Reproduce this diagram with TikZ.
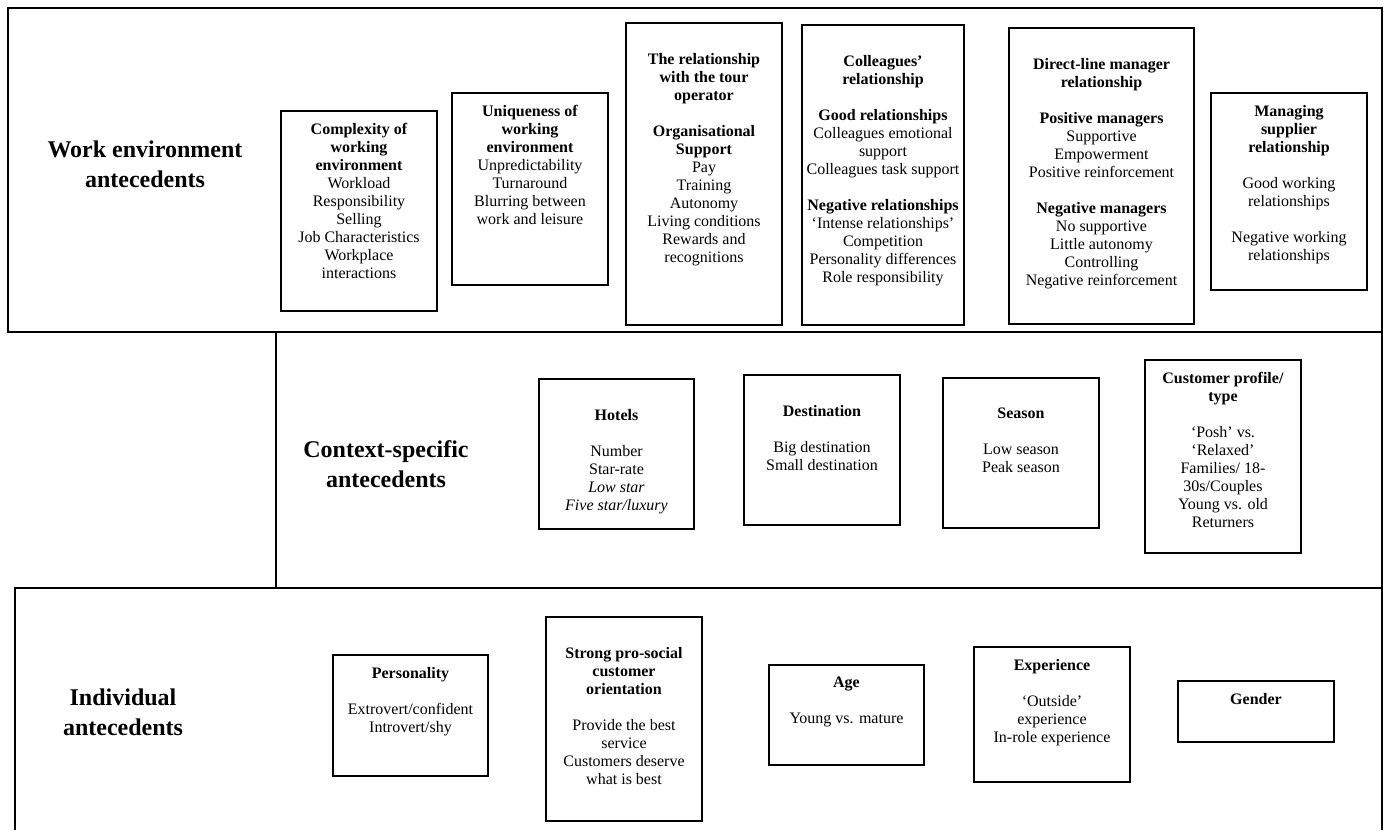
\documentclass[tikz,border=0pt]{standalone}
\usepackage{fontspec}
\setmainfont{Liberation Serif}
\usetikzlibrary{positioning}

\begin{document}
\begin{tikzpicture}[x=0.5pt,y=-0.5pt,line width=0.8pt,
    txt/.style={align=center,inner sep=0pt,font=\fontsize{8}{9}\selectfont},
    sectionlabel/.style={align=center,inner sep=0pt,font=\fontsize{12}{15}\selectfont\bfseries}]
   \useasboundingbox (0,0) rectangle (1386,830);
   \draw (8,8) rectangle (1382,332);
   \draw (276,332) rectangle (1382,588);
   \draw (15,830) |- (1382,588) -- (1382,830);
   \node[sectionlabel] (work) at (145,164) {Work environment\\antecedents};
   \node[sectionlabel] (context) at (386,464) {Context-specific\\antecedents};
   \node[sectionlabel] (indiv) at (123,712) {Individual\\antecedents};
   \begin{scope}[every node/.style={draw,rectangle,inner sep=0pt}]
    \node[minimum width=78pt,minimum height=100pt] (cplx) at (359,211) {};
    \node[minimum width=78pt,minimum height=96pt] (uniq) at (530,189) {};
    \node[minimum width=78pt,minimum height=151pt] (tour) at (704,174) {};
    \node[minimum width=81pt,minimum height=150pt] (coll) at (883,175) {};
    \node[minimum width=92.5pt,minimum height=148pt] (mgr) at (1101.5,176) {};
    \node[minimum width=78pt,minimum height=98.5pt] (supp) at (1289,191.5) {};
    \node[minimum width=77.5pt,minimum height=75pt] (hotel) at (616.5,454) {};
    \node[minimum width=78pt,minimum height=75pt] (dest) at (822,450) {};
    \node[minimum width=78pt,minimum height=75pt] (seas) at (1021,453) {};
    \node[minimum width=78pt,minimum height=96.5pt] (cust) at (1223,456.5) {};
    \node[minimum width=77.5pt,minimum height=60.5pt] (pers) at (410.5,715.5) {};
    \node[minimum width=78pt,minimum height=102pt] (soc) at (624,719) {};
    \node[minimum width=77.5pt,minimum height=50pt] (age) at (846.5,715) {};
    \node[minimum width=78pt,minimum height=67.5pt] (exp) at (1052,714.5) {};
    \node[minimum width=78pt,minimum height=30.5pt] (gend) at (1256,711.5) {};
   \end{scope}
   \begin{scope}[every node/.style={txt}]
    \node[below=6pt of cplx.north] (cplx-t) {\textbf{Complexity of}\\\textbf{working}\\\textbf{environment}\\Workload\\Responsibility\\Selling\\Job Characteristics\\Workplace\\interactions};
    \node[below=6pt of uniq.north] (uniq-t) {\textbf{Uniqueness of}\\\textbf{working}\\\textbf{environment}\\Unpredictability\\Turnaround\\Blurring between\\work and leisure};
    \node[below=15pt of tour.north] (tour-t) {\textbf{The relationship}\\\textbf{with the tour}\\\textbf{operator}\\[9pt]\textbf{Organisational}\\\textbf{Support}\\Pay\\Training\\Autonomy\\Living conditions\\Rewards and\\recognitions};
    \node[below=15pt of coll.north] (coll-t) {\textbf{Colleagues’}\\\textbf{relationship}\\[9pt]\textbf{Good relationships}\\Colleagues emotional\\support\\Colleagues task support\\[9pt]\textbf{Negative relationships}\\‘Intense relationships’\\Competition\\Personality differences\\Role responsibility};
    \node[below=15pt of mgr.north] (mgr-t) {\textbf{Direct-line manager}\\\textbf{relationship}\\[9pt]\textbf{Positive managers}\\Supportive\\Empowerment\\Positive reinforcement\\[9pt]\textbf{Negative managers}\\No supportive\\Little autonomy\\Controlling\\Negative reinforcement};
    \node[below=6pt of supp.north] (supp-t) {\textbf{Managing}\\\textbf{supplier}\\\textbf{relationship}\\[9pt]Good working\\relationships\\[9pt]Negative working\\relationships};
    \node[below=15pt of hotel.north] (hotel-t) {\textbf{Hotels}\\[9pt]Number\\Star-rate\\\textit{Low star}\\\textit{Five star/luxury}};
    \node[below=15pt of dest.north] (dest-t) {\textbf{Destination}\\[9pt]Big destination\\Small destination};
    \node[below=15pt of seas.north] (seas-t) {\textbf{Season}\\[9pt]Low season\\Peak season};
    \node[below=6pt of cust.north] (cust-t) {\textbf{Customer profile/}\\\textbf{type}\\[9pt]‘Posh’ vs.\\‘Relaxed’\\Families/ 18-\\30s/Couples\\Young vs. old\\Returners};
    \node[below=6pt of pers.north] (pers-t) {\textbf{Personality}\\[9pt]Extrovert/confident\\Introvert/shy};
    \node[below=15pt of soc.north] (soc-t) {\textbf{Strong pro-social}\\\textbf{customer}\\\textbf{orientation}\\[9pt]Provide the best\\service\\Customers deserve\\what is best};
    \node[below=6pt of age.north] (age-t) {\textbf{Age}\\[9pt]Young vs. mature};
    \node[below=6pt of exp.north] (exp-t) {\textbf{Experience}\\[9pt]‘Outside’\\experience\\In-role experience};
    \node[below=6pt of gend.north] (gend-t) {\textbf{Gender}};
   \end{scope}
\end{tikzpicture}
\end{document}
